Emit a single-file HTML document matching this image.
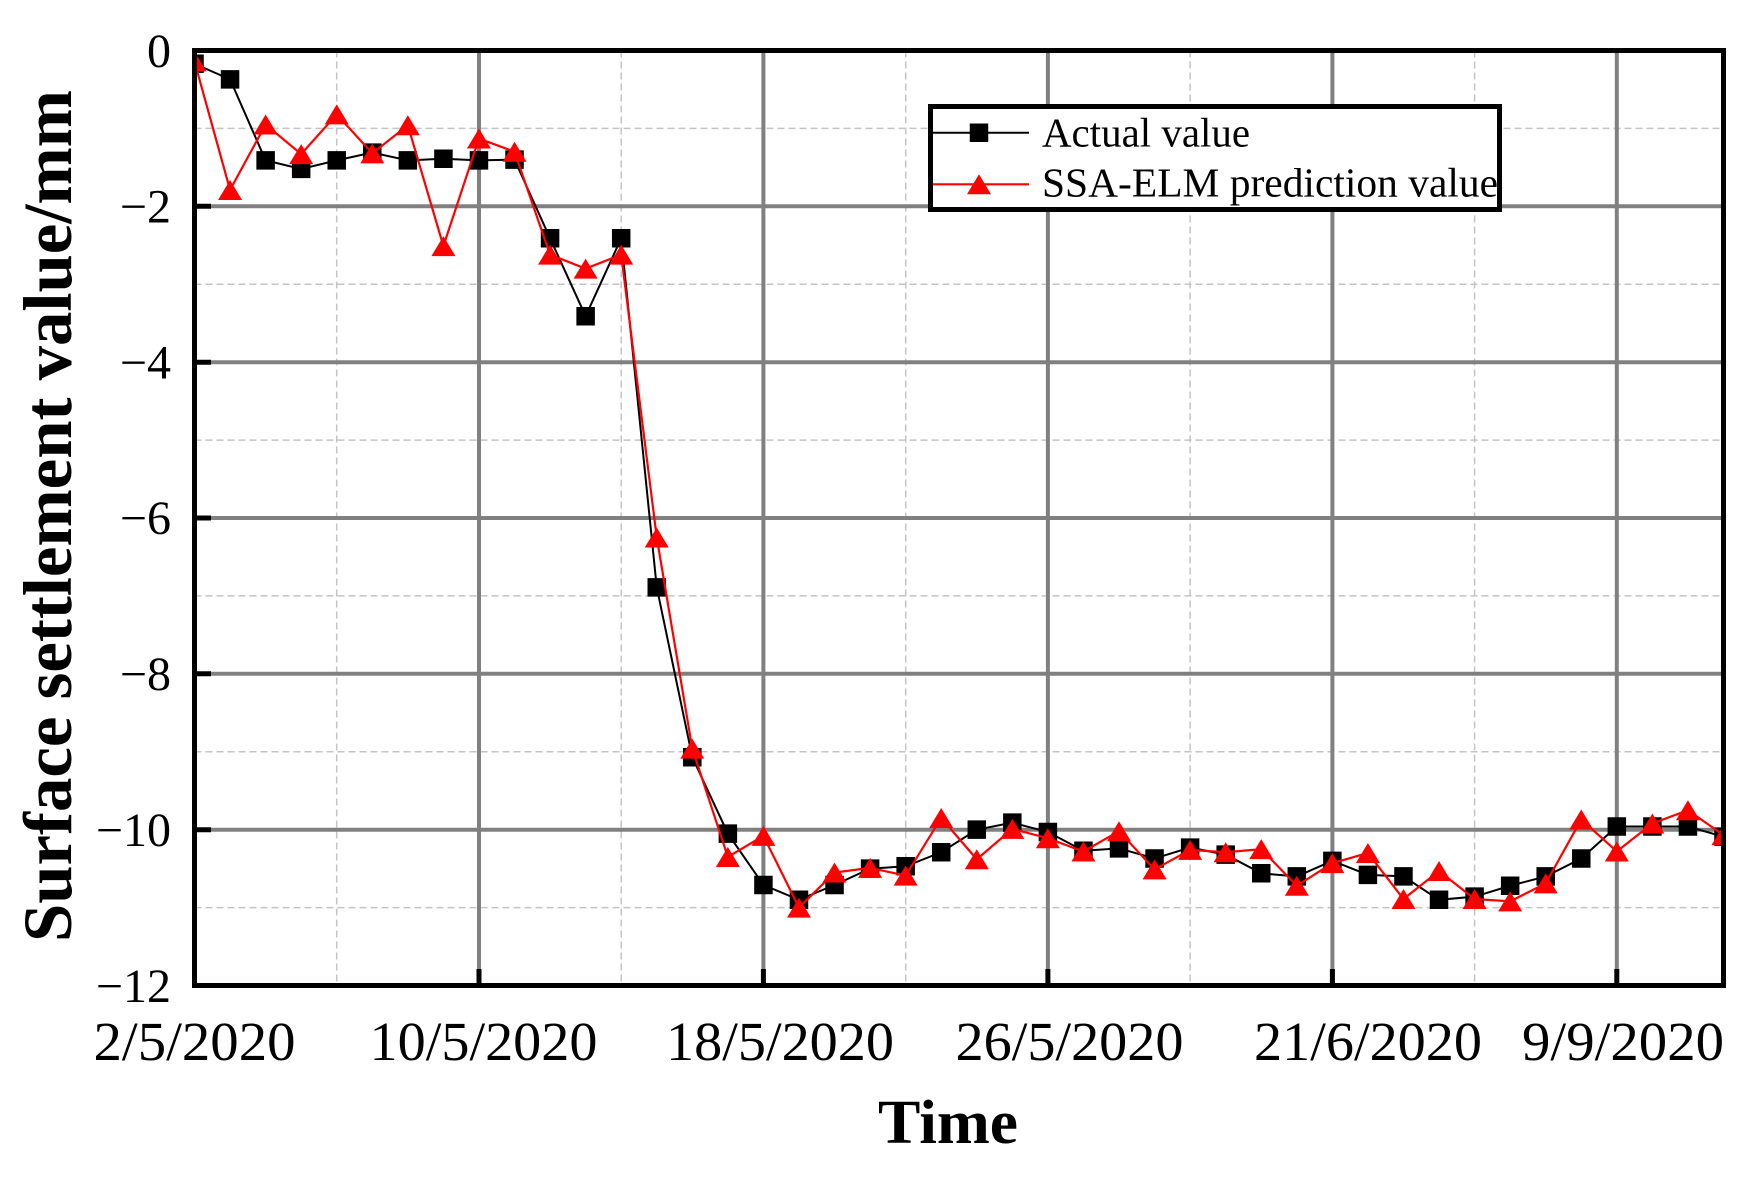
<!DOCTYPE html>
<html><head><meta charset="utf-8"><style>
html,body{margin:0;padding:0;background:#fff;}
svg{display:block;}
</style></head><body>
<svg width="1764" height="1178" viewBox="0 0 1764 1178" xmlns="http://www.w3.org/2000/svg">
<defs>
<clipPath id="pc"><rect x="192" y="48" width="1534" height="940"/></clipPath>
<path id="sq" d="M-9.25,-9.25h18.5v18.5h-18.5z" fill="#000"/>
<path id="tr" d="M0,-10L12,10L-12,10Z" fill="#ff0000"/>
</defs>
<rect width="1764" height="1178" fill="#fff"/>
<!-- minor grid -->
<g stroke="#c4c4c4" stroke-width="1.5" stroke-dasharray="7,4" fill="none">
<line x1="194.5" x2="1723.5" y1="128.4" y2="128.4"/>
<line x1="194.5" x2="1723.5" y1="284.3" y2="284.3"/>
<line x1="194.5" x2="1723.5" y1="440.1" y2="440.1"/>
<line x1="194.5" x2="1723.5" y1="595.9" y2="595.9"/>
<line x1="194.5" x2="1723.5" y1="751.8" y2="751.8"/>
<line x1="194.5" x2="1723.5" y1="907.6" y2="907.6"/>
<line y1="50.5" y2="985.5" x1="336.7" x2="336.7"/>
<line y1="50.5" y2="985.5" x1="621.2" x2="621.2"/>
<line y1="50.5" y2="985.5" x1="905.7" x2="905.7"/>
<line y1="50.5" y2="985.5" x1="1190.1" x2="1190.1"/>
<line y1="50.5" y2="985.5" x1="1474.6" x2="1474.6"/>
</g>
<!-- major grid -->
<g stroke="#808080" stroke-width="4" fill="none">
<line x1="194.5" x2="1723.5" y1="206.3" y2="206.3"/>
<line x1="194.5" x2="1723.5" y1="362.2" y2="362.2"/>
<line x1="194.5" x2="1723.5" y1="518.0" y2="518.0"/>
<line x1="194.5" x2="1723.5" y1="673.8" y2="673.8"/>
<line x1="194.5" x2="1723.5" y1="829.7" y2="829.7"/>
<line y1="50.5" y2="985.5" x1="479.0" x2="479.0"/>
<line y1="50.5" y2="985.5" x1="763.4" x2="763.4"/>
<line y1="50.5" y2="985.5" x1="1047.9" x2="1047.9"/>
<line y1="50.5" y2="985.5" x1="1332.4" x2="1332.4"/>
<line y1="50.5" y2="985.5" x1="1616.8" x2="1616.8"/>
</g>
<g clip-path="url(#pc)">
<polyline fill="none" stroke="#000" stroke-width="2" points="194.5,63.75 230.06,79.33 265.62,160.36 301.17,168.93 336.73,160.36 372.29,152.57 407.85,160.36 443.41,158.80 478.96,160.36 514.52,159.58 550.08,238.28 585.64,316.20 621.20,238.28 656.75,587.35 692.31,757.21 727.87,833.57 763.43,884.99 798.99,899.80 834.54,884.99 870.10,868.63 905.66,866.29 941.22,852.27 976.78,829.67 1012.33,822.66 1047.89,832.01 1083.45,850.71 1119.01,848.37 1154.57,858.50 1190.12,847.59 1225.68,854.60 1261.24,873.30 1296.80,876.42 1332.36,860.84 1367.91,874.86 1403.47,876.42 1439.03,899.80 1474.59,896.68 1510.15,885.77 1545.70,876.42 1581.26,858.50 1616.82,826.55 1652.38,826.55 1687.94,826.55 1723.49,836.68"/>
<g>
<use href="#sq" x="194.5" y="63.75"/><use href="#sq" x="230.06" y="79.33"/><use href="#sq" x="265.62" y="160.36"/><use href="#sq" x="301.17" y="168.93"/><use href="#sq" x="336.73" y="160.36"/><use href="#sq" x="372.29" y="152.57"/><use href="#sq" x="407.85" y="160.36"/><use href="#sq" x="443.41" y="158.80"/><use href="#sq" x="478.96" y="160.36"/><use href="#sq" x="514.52" y="159.58"/><use href="#sq" x="550.08" y="238.28"/><use href="#sq" x="585.64" y="316.20"/><use href="#sq" x="621.20" y="238.28"/><use href="#sq" x="656.75" y="587.35"/><use href="#sq" x="692.31" y="757.21"/><use href="#sq" x="727.87" y="833.57"/><use href="#sq" x="763.43" y="884.99"/><use href="#sq" x="798.99" y="899.80"/><use href="#sq" x="834.54" y="884.99"/><use href="#sq" x="870.10" y="868.63"/><use href="#sq" x="905.66" y="866.29"/><use href="#sq" x="941.22" y="852.27"/><use href="#sq" x="976.78" y="829.67"/><use href="#sq" x="1012.33" y="822.66"/><use href="#sq" x="1047.89" y="832.01"/><use href="#sq" x="1083.45" y="850.71"/><use href="#sq" x="1119.01" y="848.37"/><use href="#sq" x="1154.57" y="858.50"/><use href="#sq" x="1190.12" y="847.59"/><use href="#sq" x="1225.68" y="854.60"/><use href="#sq" x="1261.24" y="873.30"/><use href="#sq" x="1296.80" y="876.42"/><use href="#sq" x="1332.36" y="860.84"/><use href="#sq" x="1367.91" y="874.86"/><use href="#sq" x="1403.47" y="876.42"/><use href="#sq" x="1439.03" y="899.80"/><use href="#sq" x="1474.59" y="896.68"/><use href="#sq" x="1510.15" y="885.77"/><use href="#sq" x="1545.70" y="876.42"/><use href="#sq" x="1581.26" y="858.50"/><use href="#sq" x="1616.82" y="826.55"/><use href="#sq" x="1652.38" y="826.55"/><use href="#sq" x="1687.94" y="826.55"/><use href="#sq" x="1723.49" y="836.68"/>
</g>
<polyline fill="none" stroke="#ff0000" stroke-width="2.2" points="194.5,61.41 230.06,189.97 265.62,124.52 301.17,154.13 336.73,114.39 372.29,153.35 407.85,125.30 443.41,246.07 478.96,138.55 514.52,151.79 550.08,254.64 585.64,268.67 621.20,254.64 656.75,537.48 692.31,748.64 727.87,856.94 763.43,835.90 798.99,907.59 834.54,872.52 870.10,867.85 905.66,875.64 941.22,817.98 976.78,859.28 1012.33,828.89 1047.89,838.24 1083.45,851.49 1119.01,831.23 1154.57,869.41 1190.12,849.93 1225.68,852.27 1261.24,849.15 1296.80,885.77 1332.36,863.17 1367.91,853.05 1403.47,899.02 1439.03,870.97 1474.59,899.02 1510.15,901.35 1545.70,883.43 1581.26,819.54 1616.82,851.49 1652.38,823.44 1687.94,810.19 1723.49,835.12"/>
<g>
<use href="#tr" x="194.5" y="61.41"/><use href="#tr" x="230.06" y="189.97"/><use href="#tr" x="265.62" y="124.52"/><use href="#tr" x="301.17" y="154.13"/><use href="#tr" x="336.73" y="114.39"/><use href="#tr" x="372.29" y="153.35"/><use href="#tr" x="407.85" y="125.30"/><use href="#tr" x="443.41" y="246.07"/><use href="#tr" x="478.96" y="138.55"/><use href="#tr" x="514.52" y="151.79"/><use href="#tr" x="550.08" y="254.64"/><use href="#tr" x="585.64" y="268.67"/><use href="#tr" x="621.20" y="254.64"/><use href="#tr" x="656.75" y="537.48"/><use href="#tr" x="692.31" y="748.64"/><use href="#tr" x="727.87" y="856.94"/><use href="#tr" x="763.43" y="835.90"/><use href="#tr" x="798.99" y="907.59"/><use href="#tr" x="834.54" y="872.52"/><use href="#tr" x="870.10" y="867.85"/><use href="#tr" x="905.66" y="875.64"/><use href="#tr" x="941.22" y="817.98"/><use href="#tr" x="976.78" y="859.28"/><use href="#tr" x="1012.33" y="828.89"/><use href="#tr" x="1047.89" y="838.24"/><use href="#tr" x="1083.45" y="851.49"/><use href="#tr" x="1119.01" y="831.23"/><use href="#tr" x="1154.57" y="869.41"/><use href="#tr" x="1190.12" y="849.93"/><use href="#tr" x="1225.68" y="852.27"/><use href="#tr" x="1261.24" y="849.15"/><use href="#tr" x="1296.80" y="885.77"/><use href="#tr" x="1332.36" y="863.17"/><use href="#tr" x="1367.91" y="853.05"/><use href="#tr" x="1403.47" y="899.02"/><use href="#tr" x="1439.03" y="870.97"/><use href="#tr" x="1474.59" y="899.02"/><use href="#tr" x="1510.15" y="901.35"/><use href="#tr" x="1545.70" y="883.43"/><use href="#tr" x="1581.26" y="819.54"/><use href="#tr" x="1616.82" y="851.49"/><use href="#tr" x="1652.38" y="823.44"/><use href="#tr" x="1687.94" y="810.19"/><use href="#tr" x="1723.49" y="835.12"/>
</g>
</g>
<!-- ticks -->
<g stroke="#000" stroke-width="5">
<line x1="194.5" x2="211" y1="206.3" y2="206.3"/>
<line x1="194.5" x2="211" y1="362.2" y2="362.2"/>
<line x1="194.5" x2="211" y1="518.0" y2="518.0"/>
<line x1="194.5" x2="211" y1="673.8" y2="673.8"/>
<line x1="194.5" x2="211" y1="829.7" y2="829.7"/>
<line y1="985.5" y2="969" x1="479.0" x2="479.0"/>
<line y1="985.5" y2="969" x1="763.4" x2="763.4"/>
<line y1="985.5" y2="969" x1="1047.9" x2="1047.9"/>
<line y1="985.5" y2="969" x1="1332.4" x2="1332.4"/>
<line y1="985.5" y2="969" x1="1616.8" x2="1616.8"/>
</g>
<!-- frame -->
<rect x="194.5" y="50.5" width="1529" height="935" fill="none" stroke="#000" stroke-width="5"/>
<!-- legend -->
<rect x="930.5" y="106.5" width="569" height="103" fill="#fff" stroke="#000" stroke-width="5"/>
<line x1="933" x2="1029" y1="132.7" y2="132.7" stroke="#000" stroke-width="2"/>
<use href="#sq" x="979" y="132.7"/>
<line x1="933" x2="1029" y1="184.3" y2="184.3" stroke="#ff0000" stroke-width="2.2"/>
<use href="#tr" x="979" y="184.3"/>
<g font-family="'Liberation Serif', serif" fill="#000">
<text x="1042" y="146.7" font-size="41" textLength="208" lengthAdjust="spacingAndGlyphs">Actual value</text>
<text x="1042" y="196.7" font-size="41" textLength="456" lengthAdjust="spacingAndGlyphs">SSA-ELM prediction value</text>
<!-- y tick labels -->
<g font-size="48" text-anchor="end">
<text x="171" y="67">0</text>
<text x="171" y="222.5">−2</text>
<text x="171" y="378.4">−4</text>
<text x="171" y="534.2">−6</text>
<text x="171" y="690">−8</text>
<text x="171" y="845.9">−10</text>
<text x="171" y="1002">−12</text>
</g>
<!-- x tick labels -->
<g font-size="55" text-anchor="middle">
<text x="194.5" y="1060" textLength="202" lengthAdjust="spacingAndGlyphs">2/5/2020</text>
<text x="483.5" y="1060" textLength="228" lengthAdjust="spacingAndGlyphs">10/5/2020</text>
<text x="780" y="1060" textLength="228" lengthAdjust="spacingAndGlyphs">18/5/2020</text>
<text x="1069.5" y="1060" textLength="228" lengthAdjust="spacingAndGlyphs">26/5/2020</text>
<text x="1368" y="1060" textLength="228" lengthAdjust="spacingAndGlyphs">21/6/2020</text>
<text x="1623" y="1060" textLength="202" lengthAdjust="spacingAndGlyphs">9/9/2020</text>
</g>
<text x="948" y="1143" font-size="62" font-weight="bold" text-anchor="middle" textLength="140" lengthAdjust="spacingAndGlyphs">Time</text>
<text transform="translate(71,516) rotate(-90)" x="0" y="0" font-size="69" font-weight="bold" text-anchor="middle" textLength="852" lengthAdjust="spacingAndGlyphs">Surface settlement value/mm</text>
</g>
</svg>
</body></html>
